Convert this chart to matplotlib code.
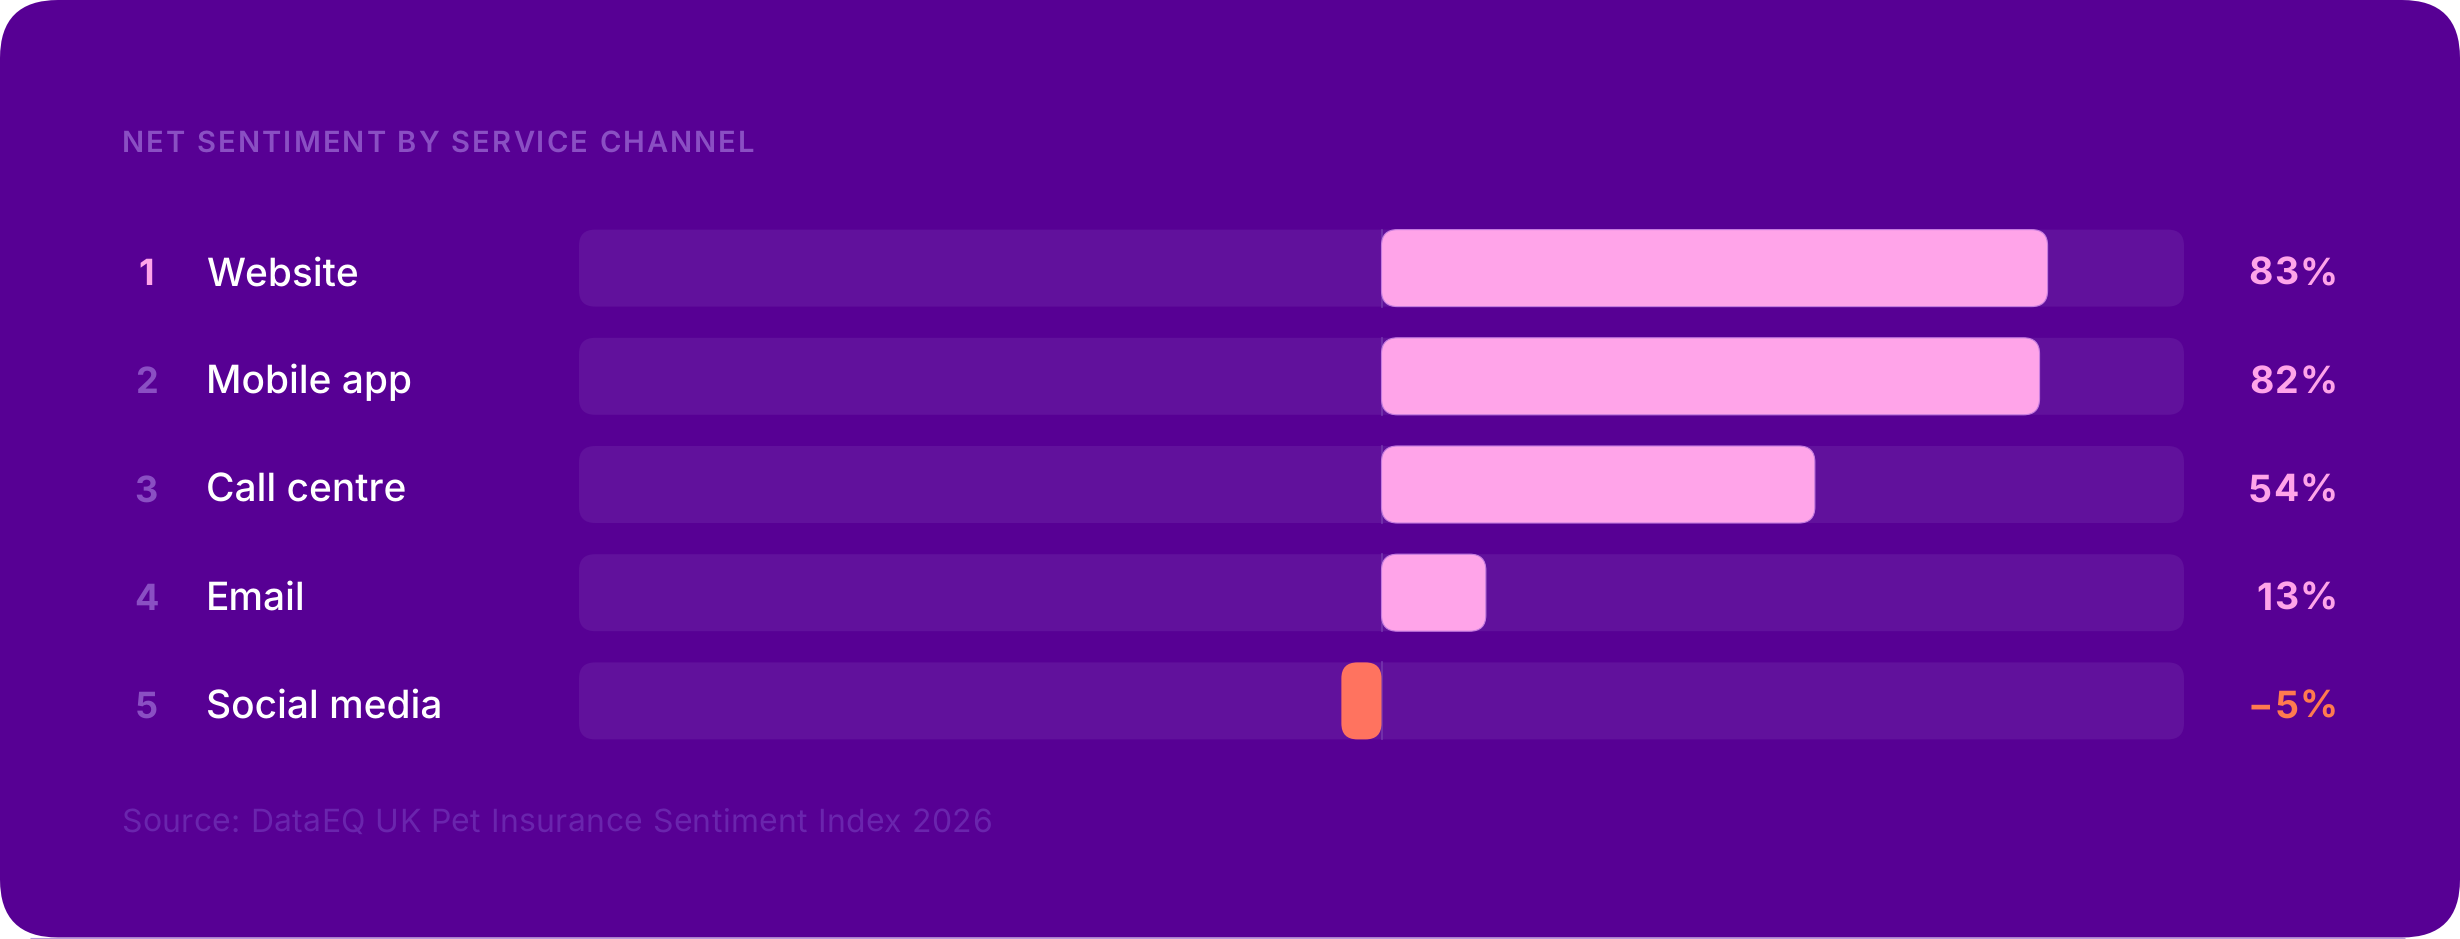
import matplotlib
matplotlib.use("Agg")
import matplotlib.pyplot as plt
from matplotlib.patches import FancyBboxPatch
from matplotlib.font_manager import FontProperties, fontManager
from matplotlib import transforms

plt.rcParams['font.family'] = ['Inter', 'DejaVu Sans']
plt.rcParams['text.hinting'] = 'no_hinting'

# data
ranks = ['1', '2', '3', '4', '5']
channels = ['Website', 'Mobile app', 'Call centre', 'Email', 'Social media']
values = [83, 82, 54, 13, -5]
value_labels = ['83%', '82%', '54%', '13%', '\u22125%']

title = 'NET SENTIMENT BY SERVICE CHANNEL'
source = 'Source: DataEQ UK Pet Insurance Sentiment Index 2026'

# colours
card_col = '#570094'
track_col = '#61119c'
pos_col = '#ffa4e9'
neg_col = '#ff735f'
muted_col = '#8a4fc3'
source_col = '#6a25ad'


def inter(weight, size):
    # pick the static Inter file for a weight, so the weight really changes
    for f in fontManager.ttflist:
        if f.name == 'Inter' and f.weight == weight and f.style == 'normal' and '[' not in f.fname:
            return FontProperties(fname=f.fname, size=size)
    return FontProperties(family=['Inter', 'DejaVu Sans'], weight=weight, size=size)


W, H = 2460, 939
fig = plt.figure(figsize=(W / 100, H / 100), dpi=100)
fig.patch.set_facecolor('white')
renderer = fig.canvas.get_renderer()

# card background (pixel units)
bg = fig.add_axes([0, 0, 1, 1])
bg.set_xlim(0, W)
bg.set_ylim(H, 0)
bg.axis('off')
bg.add_patch(FancyBboxPatch((0, 0), W, H - 1.5, boxstyle='round,pad=0,rounding_size=58',
                            fc=card_col, ec='none'))
bg.plot([30, 2405], [938.4, 938.4], color='#b896dc', lw=0.8, solid_capstyle='butt')


def text_w(s, prop):
    w, h, d = renderer.get_text_width_height_descent(s, prop, ismath=False)
    return w


def advance(s, prop):
    # pen advance of s, measured between two bars so ink bearings cancel
    return text_w('|' + s + '|', prop) - text_w('||', prop)


def tracked(axis, x, y, s, track, transform, prop, ha='left', **kw):
    # draw s with extra spacing between letters (pixels)
    offs = [advance(s[:k], prop) if k else 0 for k in range(len(s))]
    total = advance(s, prop) + track * (len(s) - 1)
    x0 = x - total if ha == 'right' else x
    for k, ch in enumerate(s):
        if ch == ' ':
            continue
        axis.text(x0 + offs[k] + k * track, y, ch, transform=transform, ha='left',
                  va='baseline', fontproperties=prop, **kw)


# bar area
left, right = 579, 2184
top, bottom = 214, 755
ax = fig.add_axes([left / W, 1 - bottom / H, (right - left) / W, (bottom - top) / H])
ax.set_xlim(-100, 100)
ax.set_ylim(len(channels) - 0.5, -0.5)
ax.axis('off')
ax.patch.set_alpha(0)

px_x = (right - left) / 200.0
px_y = (bottom - top) / len(channels)
aspect = px_x / px_y
bar_h = 77 / px_y
r = 16 / px_x

for i, v in enumerate(values):
    ax.add_patch(FancyBboxPatch((-100, i - bar_h / 2), 200, bar_h,
                                boxstyle='round,pad=0,rounding_size=%f' % r,
                                mutation_aspect=aspect, fc=track_col, ec='none', zorder=1))
    ax.plot([0, 0], [i - bar_h / 2, i + bar_h / 2], color='#7536ae', lw=1.2, zorder=2)
    col = pos_col if v >= 0 else neg_col
    ax.add_patch(FancyBboxPatch((min(0, v), i - bar_h / 2), abs(v), bar_h,
                                boxstyle='round,pad=0,rounding_size=%f' % min(r, abs(v) / 2),
                                mutation_aspect=aspect, fc=col, ec='#c77de0' if v >= 0 else 'none',
                                lw=0.8, zorder=3))

# row labels: x in pixels, y in data rows, baseline shifted below the row centre
tr = transforms.blended_transform_factory(bg.transData, ax.transData)
tr = transforms.offset_copy(tr, fig=fig, y=-17 * 72 / 100, units='points')
rank_font = inter(700, 26)
name_font = inter(500, 28)
value_font = inter(700, 27)
for i, (rk, name, v, lab) in enumerate(zip(ranks, channels, values, value_labels)):
    ax.text(146, i, rk, transform=tr, ha='center', va='baseline', fontproperties=rank_font,
            color=pos_col if i == 0 else muted_col)
    ax.text(206, i, name, transform=tr, ha='left', va='baseline', fontproperties=name_font,
            color='white')
    tracked(ax, 2338, i, lab, 1.5, tr, value_font, ha='right',
            color=pos_col if v >= 0 else '#ff7a4f')

tracked(bg, 122, 152, title, 2.1, bg.transData, inter(600, 21), color=muted_col)
tracked(bg, 121, 832, source, 0.4, bg.transData, inter(400, 23), color=source_col)

fig.savefig('out.png', dpi=100, facecolor='white')
